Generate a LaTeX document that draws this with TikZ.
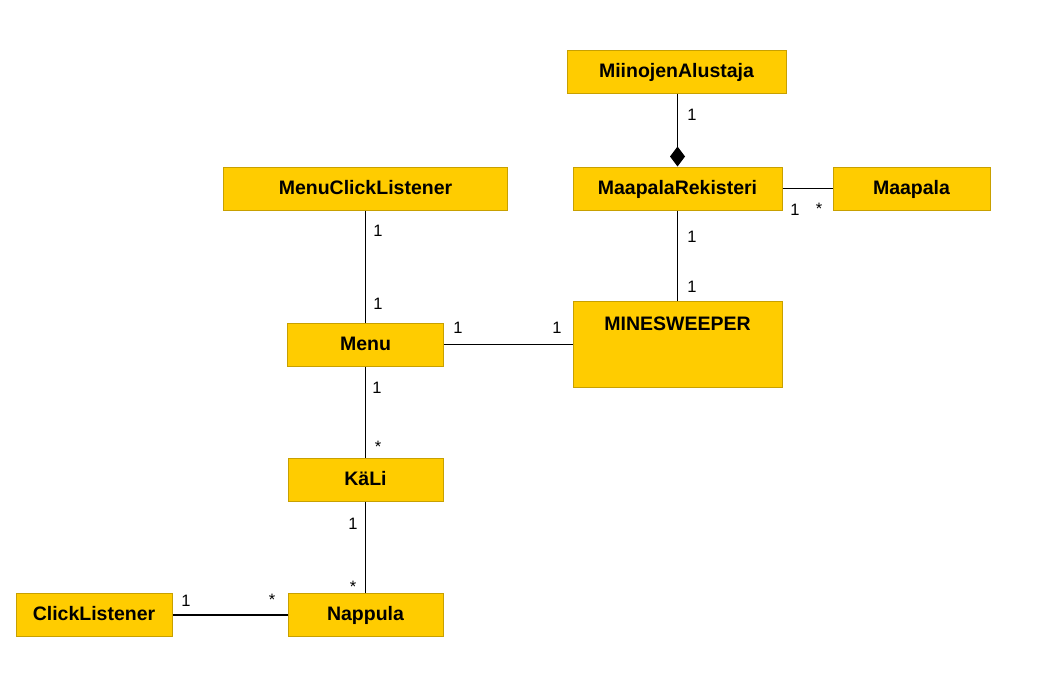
\documentclass[tikz,border=0pt]{standalone}
\usepackage{fontspec}
\setmainfont{Liberation Sans}
\usetikzlibrary{arrows.meta}
\definecolor{boxfill}{RGB}{255,204,0}
\definecolor{boxedge}{RGB}{200,160,0}
\tikzset{
  cls/.style={rectangle, fill=boxfill, draw=boxedge, line width=1pt,
    font=\fontsize{19.5}{22}\selectfont\bfseries, text height=15pt, text depth=4pt,
    inner sep=0pt, minimum height=43pt},
  assoc/.style={draw=black, line width=1.3pt},
  mult/.style={font=\fontsize{16.5}{18}\selectfont, anchor=base, inner sep=0pt},
}
\begin{document}
\begin{tikzpicture}[x=1pt,y=-1pt]
\useasboundingbox (0,0) rectangle (1059,689);
% classes
\node[cls, minimum width=219pt] (mia) at (676.5,71.5) {MiinojenAlustaja};
\node[cls, minimum width=209pt] (mr) at (677.5,188.5) {MaapalaRekisteri};
\node[cls, minimum width=157pt] (maapala) at (911.5,188.5) {Maapala};
\node[cls, minimum width=284pt] (mcl) at (365.5,188.5) {MenuClickListener};
\node[cls, minimum width=156pt] (menu) at (365.5,344.5) {Menu};
\node[cls, minimum width=209pt, minimum height=86pt] (ms) at (677.5,344.5) {};
\node[font=\fontsize{19.5}{22}\selectfont\bfseries, anchor=base, inner sep=0pt] (mstitle) at (677.5,330) {MINESWEEPER};
\node[cls, minimum width=155pt] (kali) at (365.5,479.5) {KäLi};
\node[cls, minimum width=155pt] (nappula) at (365.5,615) {Nappula};
\node[cls, minimum width=156pt] (click) at (94,615) {ClickListener};
% connectors
\draw[assoc, -{Diamond[length=20pt,width=15pt]}] (mia.south -| mr.north) -- (mr.north);
\draw[assoc] (mr.east) -- (maapala.west);
\draw[assoc] (mr.south) -- (ms.north);
\draw[assoc] (mcl.south) -- (menu.north);
\draw[assoc] (menu.east) -- (ms.west);
\draw[assoc] (menu.south) -- (kali.north);
\draw[assoc] (kali.south) -- (nappula.north);
\draw[assoc] (click.east) -- (nappula.west);
% multiplicities
\node[mult] (m1) at (692,120) {1};
\node[mult] (m2) at (795,215) {1};
\node[mult] (m3) at (819,214) {*};
\node[mult] (m4) at (692,242) {1};
\node[mult] (m5) at (692,292) {1};
\node[mult] (m6) at (378,236) {1};
\node[mult] (m7) at (378,309) {1};
\node[mult] (m8) at (458,333) {1};
\node[mult] (m9) at (557,333) {1};
\node[mult] (m10) at (377,393) {1};
\node[mult] (m11) at (378,452) {*};
\node[mult] (m12) at (353,529) {1};
\node[mult] (m13) at (353,592) {*};
\node[mult] (m14) at (186,606) {1};
\node[mult] (m15) at (272,605) {*};
\end{tikzpicture}
\end{document}
